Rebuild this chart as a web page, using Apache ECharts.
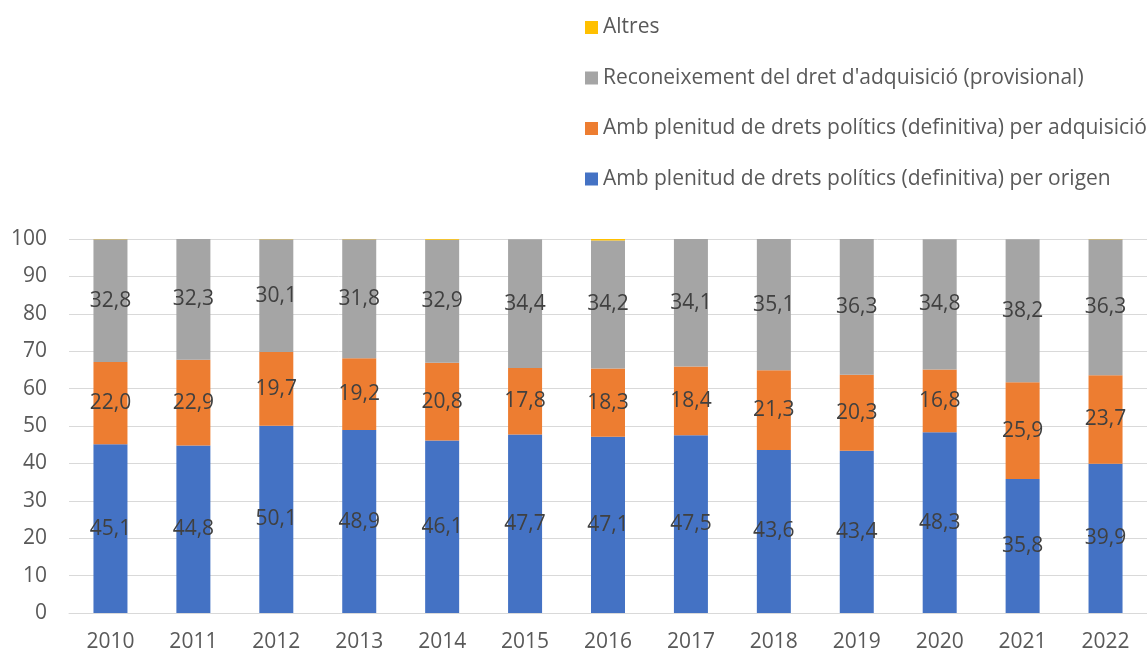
<!DOCTYPE html>
<html>
<head>
<meta charset="utf-8">
<script src="https://cdn.jsdelivr.net/npm/echarts@6/dist/echarts.min.js"></script>
<style>
html,body{margin:0;padding:0;background:#fff;}
#chart{width:1147px;height:655px;}
</style>
</head>
<body>
<div id="chart"></div>
<script>
const years = ['2010','2011','2012','2013','2014','2015','2016','2017','2018','2019','2020','2021','2022'];
const origen = [45.1,44.8,50.1,48.9,46.1,47.7,47.1,47.5,43.6,43.4,48.3,35.8,39.9];
const adquisicio = [22.0,22.9,19.7,19.2,20.8,17.8,18.3,18.4,21.3,20.3,16.8,25.9,23.7];
const provisional = [32.8,32.3,30.1,31.8,32.9,34.4,34.2,34.1,35.1,36.3,34.8,38.2,36.3];
const altres = [0.1,0,0.1,0.1,0.2,0,0.4,0,0,0,0,0,0.1];
const names = [
  'Amb plenitud de drets polítics (definitiva) per origen',
  'Amb plenitud de drets polítics (definitiva) per adquisició',
  "Reconeixement del dret d'adquisició (provisional)",
  'Altres'
];
const colors = ['#4472C4','#ED7D31','#A5A5A5','#FFC000'];
const FONT = 'Open Sans';

const chart = echarts.init(document.getElementById('chart'), null, {renderer:'canvas'});
const lbl = {
  show:true, position:'inside', color:'#404040', fontSize:21, fontFamily:FONT,
  formatter: p => p.value.toFixed(1).replace('.', ',')
};
function mk(i, data, withLabel){
  return {
    name: names[i], type:'bar', stack:'total', data:data, barWidth:34,
    itemStyle:{color:colors[i]},
    label: withLabel ? lbl : {show:false},
    emphasis:{disabled:true}
  };
}
chart.setOption({
  animation:false,
  color: colors,
  textStyle:{fontFamily:FONT},
  legend:{
    orient:'vertical', left:580, top:12,
    data:[names[3],names[2],names[1],names[0]],
    icon:'rect', itemWidth:13, itemHeight:13, itemGap:29.5, itemTextGap:5,
    textStyle:{color:'#595959', fontSize:21, fontFamily:FONT, lineHeight:21}
  },
  grid:{left:69, right:-14, top:239, bottom:42, containLabel:false},
  xAxis:{
    type:'category', data:years,
    axisLine:{lineStyle:{color:'#D9D9D9'}},
    axisTick:{show:false},
    axisLabel:{color:'#595959', fontSize:21, fontFamily:FONT, margin:19}
  },
  yAxis:{
    type:'value', min:0, max:100, interval:10,
    axisLine:{show:false}, axisTick:{show:false},
    splitLine:{lineStyle:{color:'#D9D9D9', width:1}},
    axisLabel:{color:'#595959', fontSize:21, fontFamily:FONT, margin:22}
  },
  series:[
    mk(0, origen, true),
    mk(1, adquisicio, true),
    mk(2, provisional, true),
    mk(3, altres, false)
  ]
});
</script>
</body>
</html>
